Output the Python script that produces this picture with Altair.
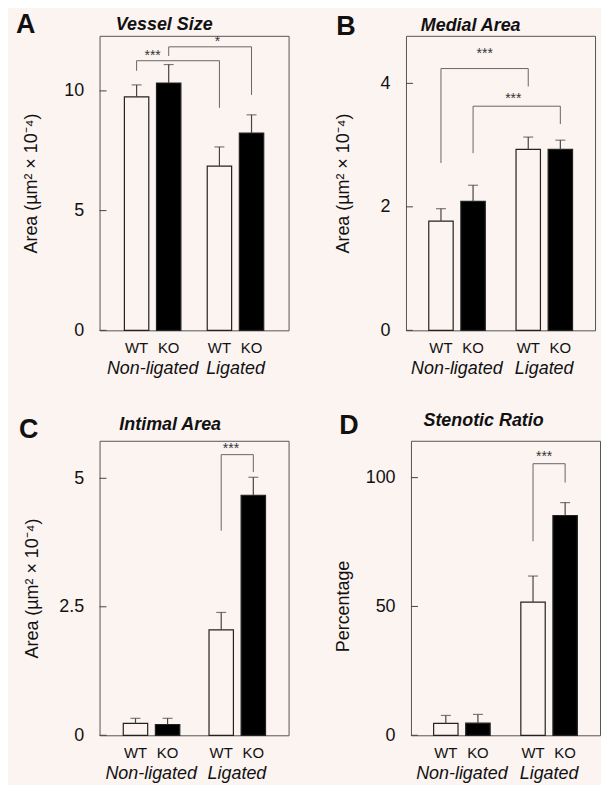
import altair as alt
import pandas as pd

BG = "#fcf4f1"
FONT = "Liberation Sans"
LINE = "#444444"

# ---- data ----
groups = ["Non-ligated", "Non-ligated", "Ligated", "Ligated"]
genotypes = ["WT", "KO", "WT", "KO"]
group_order = ["Non-ligated", "Ligated"]
geno_order = ["WT", "KO"]

vessel_mean = [9.75, 10.33, 6.86, 8.24]
vessel_sem = [0.50, 0.77, 0.80, 0.76]
medial_mean = [1.77, 2.09, 2.93, 2.93]
medial_sem = [0.20, 0.26, 0.20, 0.15]
intimal_mean = [0.23, 0.21, 2.05, 4.67]
intimal_sem = [0.10, 0.12, 0.34, 0.35]
stenotic_mean = [4.6, 4.7, 51.7, 85.3]
stenotic_sem = [3.1, 3.4, 10.1, 5.0]

# brackets: (left group, left genotype, right group, right genotype, level, left leg end, right leg end)
vessel_brackets = [("Non-ligated", "WT", "Ligated", "WT", 11.26, 10.84, 9.29),
                   ("Non-ligated", "KO", "Ligated", "KO", 11.84, 11.46, 9.83)]
medial_brackets = [("Non-ligated", "WT", "Ligated", "WT", 4.24, 2.71, 3.95),
                   ("Non-ligated", "KO", "Ligated", "KO", 3.63, 2.87, 3.34)]
intimal_brackets = [("Ligated", "WT", "Ligated", "KO", 5.46, 3.98, 5.12)]
stenotic_brackets = [("Ligated", "WT", "Ligated", "KO", 105.4, 75.3, 98.1)]

# stars: (anchor group, level, text)
vessel_stars = [("Non-ligated", 11.59, "***"), ("Ligated", 12.18, "*")]
medial_stars = [("Non-ligated", 4.53, "***"), ("Ligated", 3.79, "***")]
intimal_stars = [("Ligated", 5.62, "***")]
stenotic_stars = [("Ligated", 109.3, "***")]

vessel_ticks = [0, 5, 10]
medial_ticks = [0, 2, 4]
intimal_ticks = [0, 2.5, 5]
stenotic_ticks = [0, 50, 100]

AREA_TITLE = "Area (\u00b5m\u00b2 \u00d7 10\u207b\u2074)"

W, H = 190, 296


def panel(letter, title, ytitle, means, sems, ymax, ticks, brackets, stars,
          star_dx, pi, po, letter_x, letter_y, title_dx, title_y, title_pad, title_y_axis=None):
    df = pd.DataFrame({"group": groups, "genotype": genotypes, "mean": means,
                       "top": [m + s for m, s in zip(means, sems)]})
    yscale = alt.Scale(domain=[0, ymax], nice=False, zero=True)
    xscale = alt.Scale(domain=group_order, paddingInner=pi, paddingOuter=po)
    xoscale = alt.Scale(domain=geno_order, paddingInner=0.24, paddingOuter=0)

    ax_kwargs = dict(values=ticks, format=".4~g", ticks=False, domain=False, grid=False,
                     labelPadding=16, labelFontSize=18, labelFont=FONT, labelColor="#111",
                     title=ytitle, titleFontSize=18, titleFontWeight="normal", titleFont=FONT,
                     titleColor="#111", titlePadding=title_pad)
    if title_y_axis is not None:
        ax_kwargs["titleY"] = title_y_axis
    yaxis = alt.Axis(**ax_kwargs)
    xaxis = alt.Axis(title=None, labelFontStyle="italic", labelFontSize=18, labelFont=FONT,
                     labelColor="#111", labelPadding=29, ticks=False, domain=False, labelAngle=0)

    def X():
        return alt.X("group:N", scale=xscale, axis=xaxis)

    def XO():
        return alt.XOffset("genotype:N", scale=xoscale)

    def Y(field):
        return alt.Y(field, scale=yscale, axis=yaxis)

    bars = alt.Chart(df).mark_bar(stroke="#222", strokeWidth=1.2).encode(
        x=X(), xOffset=XO(), y=Y("mean:Q"),
        fill=alt.Fill("genotype:N", scale=alt.Scale(domain=geno_order, range=[BG, "#000000"]), legend=None),
    )
    err = alt.Chart(df).mark_rule(color=LINE, strokeWidth=1.2).encode(
        x=X(), xOffset=XO(), y=Y("mean:Q"), y2="top:Q")
    cap = alt.Chart(df).mark_tick(color=LINE, thickness=1.2, size=10).encode(
        x=X(), xOffset=XO(), y=Y("top:Q"))

    rows = []
    for i, (lg, lgeno, rg, rgeno, level, lbot, rbot) in enumerate(brackets):
        rows += [dict(b=i, o=0, group=lg, genotype=lgeno, v=lbot),
                 dict(b=i, o=1, group=lg, genotype=lgeno, v=level),
                 dict(b=i, o=2, group=rg, genotype=rgeno, v=level),
                 dict(b=i, o=3, group=rg, genotype=rgeno, v=rbot)]
    bdf = pd.DataFrame(rows)
    br = alt.Chart(bdf).mark_line(color="#666", strokeWidth=1).encode(
        x=X(), xOffset=XO(), y=Y("v:Q"), detail="b:N", order="o:Q")

    tdf = pd.DataFrame({"t": ticks})
    tick_marks = alt.Chart(tdf).mark_rule(color=LINE, strokeWidth=1).encode(
        y=Y("t:Q"), x=alt.value(0), x2=alt.value(7))

    lab = alt.Chart(df).mark_text(fontSize=15, font=FONT, color="#111", baseline="middle").encode(
        x=X(), xOffset=XO(), y=alt.value(H + 18), text="genotype:N")

    layers = [bars, err, cap, br, tick_marks, lab]
    for (g, lvl, txt), dx in zip(stars, star_dx):
        sdf = pd.DataFrame({"group": [g], "v": [lvl], "txt": [txt]})
        layers.append(alt.Chart(sdf).mark_text(fontSize=14, font=FONT, color="#333", baseline="middle",
                                               dx=dx, dy=3).encode(
            x=X(), y=Y("v:Q"), text="txt:N"))

    ttl = alt.Chart(pd.DataFrame({"t": [title]})).mark_text(
        fontSize=18, font=FONT, fontStyle="italic", fontWeight="bold", color="#111",
        baseline="top", align="center").encode(
        x=alt.value(W / 2 + title_dx), y=alt.value(title_y), text="t:N")
    let = alt.Chart(pd.DataFrame({"t": [letter]})).mark_text(
        fontSize=27, font=FONT, fontWeight="bold", color="#111",
        baseline="top", align="left").encode(
        x=alt.value(letter_x), y=alt.value(letter_y), text="t:N")
    layers += [ttl, let]
    return alt.layer(*layers).properties(width=W, height=H)


pA = panel("A", "Vessel Size", AREA_TITLE, vessel_mean, vessel_sem, 12.3, vessel_ticks,
           vessel_brackets, vessel_stars, [0, -18], 0.318, 0.30, -84, -24, -30, -20, 23)
pB = panel("B", "Medial Area", AREA_TITLE, medial_mean, medial_sem, 4.77, medial_ticks,
           medial_brackets, medial_stars, [28, -31], 0.356, 0.261, -70, -22, -30, -19, 28)
pC = panel("C", "Intimal Area", AREA_TITLE, intimal_mean, intimal_sem, 5.73, intimal_ticks,
           intimal_brackets, intimal_stars, [-6], 0.349, 0.277, -81, -24, -24, -25, 17)
pD = panel("D", "Stenotic Ratio", "Percentage", stenotic_mean, stenotic_sem, 114.3, stenotic_ticks,
           stenotic_brackets, stenotic_stars, [-5], 0.352, 0.26, -72, -28, -22, -29, 13,
           title_y_axis=166)

row1 = alt.hconcat(pA, pB, spacing=44)
row2 = alt.hconcat(pC, pD, spacing=44)
chart = alt.vconcat(row1, row2, spacing=33).properties(
    padding={"top": 0, "left": 7, "right": 0, "bottom": 0}
).configure(
    background=BG, font=FONT
).configure_view(stroke="#555555", strokeWidth=1)

chart.save("out.html", embed_options={"renderer": "svg", "actions": False})
